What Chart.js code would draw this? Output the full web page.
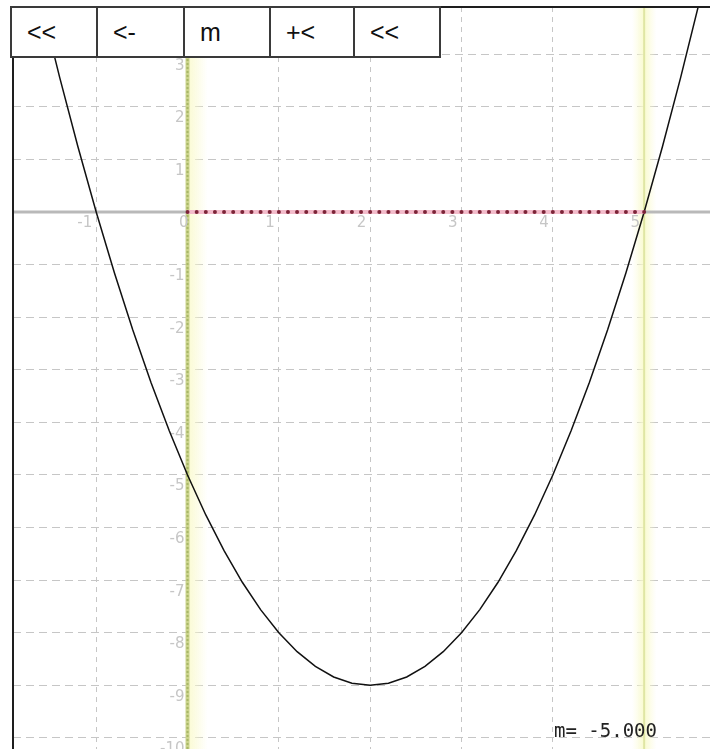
<!DOCTYPE html>
<html>
<head>
<meta charset="utf-8">
<script src="https://cdn.jsdelivr.net/npm/chart.js@4/dist/chart.umd.min.js"></script>
<style>
  html, body { margin: 0; padding: 0; background: #fff; }
  #wrap { position: relative; width: 710px; height: 749px; overflow: hidden; }
  #plot { position: absolute; left: 0; top: 0; }
  .frame-top { position: absolute; left: 12px; top: 6px; width: 698px; height: 2px; background: #1e1e1e; }
  .frame-left { position: absolute; left: 12px; top: 6px; width: 2px; height: 743px; background: #1e1e1e; }
  .btn {
    position: absolute; top: 6px; height: 52px; box-sizing: border-box;
    border: 2px solid #3a3a3a; background: #fff;
    font: 25px "Liberation Sans", Arial, sans-serif; color: #111;
    line-height: 48px; padding-left: 15px; white-space: pre;
  }
  #mval {
    position: absolute; left: 554px; top: 719px;
    font: 19px "DejaVu Sans Mono", monospace; color: #222; white-space: pre;
  }
</style>
</head>
<body>
<div id="wrap">
  <canvas id="plot" width="710" height="749"></canvas>
  <div class="frame-top"></div>
  <div class="frame-left"></div>
  <div class="btn" style="left:10px;width:88px;">&lt;&lt;</div>
  <div class="btn" style="left:96px;width:89px;">&lt;-</div>
  <div class="btn" style="left:183px;width:88px;">m</div>
  <div class="btn" style="left:269px;width:86px;">+&lt;</div>
  <div class="btn" style="left:353px;width:88px;">&lt;&lt;</div>
  <div id="mval">m= -5.000</div>
</div>
<script>
(function () {
  "use strict";

  // parabola (roots at -1 and 5, bottom near (2, -9))
  const CURVE_X = [-1.8, -1.6, -1.4, -1.2, -1.0, -0.8, -0.6, -0.4, -0.2, 0.0,
    0.2, 0.4, 0.6, 0.8, 1.0, 1.2, 1.4, 1.6, 1.8, 2.0,
    2.2, 2.4, 2.6, 2.8, 3.0, 3.2, 3.4, 3.6, 3.8, 4.0,
    4.2, 4.4, 4.6, 4.8, 5.0, 5.2, 5.4, 5.6, 5.8];
  const CURVE_Y = [5.44, 3.96, 2.56, 1.24, 0.0, -1.16, -2.24, -3.24, -4.16, -5.0,
    -5.76, -6.44, -7.04, -7.56, -8.0, -8.36, -8.64, -8.84, -8.96, -9.0,
    -8.96, -8.84, -8.64, -8.36, -8.0, -7.56, -7.04, -6.44, -5.76, -5.0,
    -4.16, -3.24, -2.24, -1.16, 0.0, 1.24, 2.56, 3.96, 5.44];

  // red dotted segment on the x axis between the two marker lines
  const DOT_X = [0.0, 0.1, 0.2, 0.3, 0.4, 0.5, 0.6, 0.7, 0.8, 0.9,
    1.0, 1.1, 1.2, 1.3, 1.4, 1.5, 1.6, 1.7, 1.8, 1.9,
    2.0, 2.1, 2.2, 2.3, 2.4, 2.5, 2.6, 2.7, 2.8, 2.9,
    3.0, 3.1, 3.2, 3.3, 3.4, 3.5, 3.6, 3.7, 3.8, 3.9,
    4.0, 4.1, 4.2, 4.3, 4.4, 4.5, 4.6, 4.7, 4.8, 4.9, 5.0];
  const DOT_Y = [0, 0, 0, 0, 0, 0, 0, 0, 0, 0,
    0, 0, 0, 0, 0, 0, 0, 0, 0, 0,
    0, 0, 0, 0, 0, 0, 0, 0, 0, 0,
    0, 0, 0, 0, 0, 0, 0, 0, 0, 0,
    0, 0, 0, 0, 0, 0, 0, 0, 0, 0, 0];

  // yellow marker lines (interval ends)
  const MARK_X = [0, 5];

  // axis tick labels drawn next to the axes
  const X_LABELS = [-1, 1, 2, 3, 4, 5];
  const Y_LABELS = [3, 2, 1, -1, -2, -3, -4, -5, -6, -7, -8, -9, -10];

  const X_RANGE = [-1.911, 5.721];
  const Y_RANGE = [-10.21, 3.897];

  const toPoints = (xs, ys) => xs.map((x, i) => ({ x: x, y: ys[i] }));

  const axesPlugin = {
    id: "axesPlugin",
    beforeDatasetsDraw(chart) {
      const { ctx, chartArea: a, scales: { x, y } } = chart;
      const y0 = y.getPixelForValue(0);
      const x0 = x.getPixelForValue(0);
      ctx.save();
      ctx.beginPath();
      ctx.rect(a.left, a.top, a.right - a.left, a.bottom - a.top);
      ctx.clip();

      // soft yellow glow next to the marker lines
      const xa = x.getPixelForValue(MARK_X[0]);
      const xb = x.getPixelForValue(MARK_X[1]);
      let g = ctx.createLinearGradient(xa, 0, xa + 20, 0);
      g.addColorStop(0, "rgba(250,250,205,0.9)");
      g.addColorStop(1, "rgba(250,250,205,0)");
      ctx.fillStyle = g;
      ctx.fillRect(xa, a.top, 20, a.bottom - a.top);
      g = ctx.createLinearGradient(xb - 12, 0, xb + 12, 0);
      g.addColorStop(0, "rgba(250,250,210,0)");
      g.addColorStop(0.5, "rgba(248,250,200,0.9)");
      g.addColorStop(1, "rgba(250,250,210,0)");
      ctx.fillStyle = g;
      ctx.fillRect(xb - 12, a.top, 24, a.bottom - a.top);

      // marker lines
      ctx.lineWidth = 4;
      ctx.strokeStyle = "#cbd48c";
      ctx.beginPath(); ctx.moveTo(xa, a.top); ctx.lineTo(xa, a.bottom); ctx.stroke();
      ctx.lineWidth = 2;
      ctx.setLineDash([2, 2]);
      ctx.strokeStyle = "#a8b766";
      ctx.beginPath(); ctx.moveTo(xa, a.top); ctx.lineTo(xa, a.bottom); ctx.stroke();
      ctx.setLineDash([]);
      ctx.lineWidth = 2;
      ctx.strokeStyle = "#dfe6a4";
      ctx.beginPath(); ctx.moveTo(xb, a.top); ctx.lineTo(xb, a.bottom); ctx.stroke();

      // x axis
      ctx.lineWidth = 3;
      ctx.strokeStyle = "#b9b9b9";
      ctx.beginPath(); ctx.moveTo(a.left, y0); ctx.lineTo(a.right, y0); ctx.stroke();

      // tick labels
      ctx.fillStyle = "#c6c6c6";
      ctx.font = '15px "DejaVu Sans"';
      ctx.textAlign = "right";
      ctx.textBaseline = "top";
      X_LABELS.forEach((v) => ctx.fillText(String(v), x.getPixelForValue(v) - 4, y0 + 4));
      Y_LABELS.forEach((v) => ctx.fillText(String(v), x0 - 3, y.getPixelForValue(v) + 4));
      ctx.fillText("0", x0 + 1, y0 + 4);
      ctx.restore();
    },
  };

  new Chart(document.getElementById("plot"), {
    type: "scatter",
    data: {
      datasets: [
        {
          data: toPoints(DOT_X, DOT_Y),
          showLine: true,
          borderColor: "#f3bccb",
          borderWidth: 4,
          pointRadius: 2,
          pointBorderWidth: 0,
          pointBackgroundColor: "#7c2438",
        },
        {
          data: toPoints(CURVE_X, CURVE_Y),
          showLine: true,
          borderColor: "#111111",
          borderWidth: 1.5,
          pointRadius: 0,
        },
      ],
    },
    options: {
      responsive: false,
      animation: false,
      layout: { autoPadding: false, padding: { left: 13, top: 7, right: 0, bottom: 0 } },
      plugins: { legend: { display: false }, tooltip: { enabled: false } },
      scales: {
        x: {
          type: "linear",
          min: X_RANGE[0],
          max: X_RANGE[1],
          afterFit: (s) => { s.height = 0; s.paddingLeft = 0; s.paddingRight = 0; },
          ticks: { display: false, stepSize: 1, includeBounds: false, padding: 0 },
          grid: { color: "#c6c6c6", lineWidth: 1, drawTicks: false },
          border: { display: false, dash: [5, 5] },
        },
        y: {
          type: "linear",
          min: Y_RANGE[0],
          max: Y_RANGE[1],
          afterFit: (s) => { s.width = 0; s.paddingTop = 0; s.paddingBottom = 0; },
          ticks: { display: false, stepSize: 1, includeBounds: false, padding: 0 },
          grid: { color: "#c6c6c6", lineWidth: 1, drawTicks: false },
          border: { display: false, dash: [8, 5] },
        },
      },
    },
    plugins: [axesPlugin],
  });
})();
</script>
</body>
</html>
